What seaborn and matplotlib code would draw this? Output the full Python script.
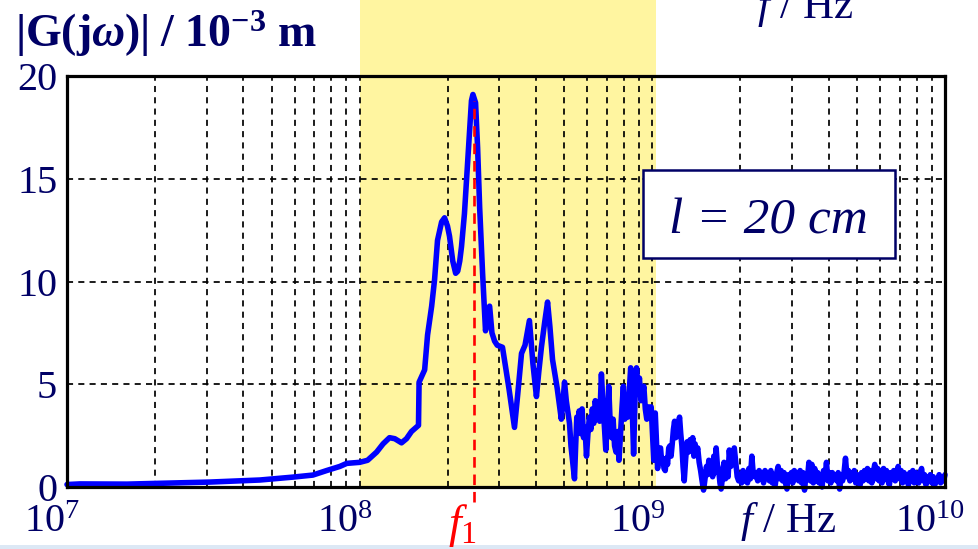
import matplotlib
matplotlib.use("Agg")
import matplotlib.pyplot as plt
import matplotlib.transforms as mtransforms
from matplotlib.patches import Rectangle
from matplotlib.ticker import FixedLocator, LogLocator, NullFormatter, LogFormatterMathtext
import numpy as np
import pandas as pd
import seaborn as sns

# ---------------- data ----------------
# log10 of frequency in Hz, and |G(jw)| in 1e-3 m
log_freq_low = [
    7.000, 7.044, 7.205, 7.488, 7.659, 7.771, 7.840, 7.887, 7.932, 7.956,
    8.000, 8.027, 8.058, 8.080, 8.102, 8.120, 8.143, 8.160, 8.177, 8.201,
    8.203, 8.222, 8.232, 8.246, 8.256, 8.266, 8.280, 8.290, 8.300, 8.307,
    8.318, 8.328, 8.335, 8.342, 8.348, 8.358, 8.369, 8.382, 8.387, 8.396,
    8.403, 8.410, 8.420, 8.430, 8.437, 8.444, 8.452, 8.461, 8.470, 8.488,
    8.510, 8.529, 8.540, 8.553, 8.565, 8.580, 8.592, 8.604, 8.612, 8.621,
    8.632, 8.642, 8.650, 8.659, 8.675, 8.689, 8.695,
]
mag_low = [
    0.12, 0.15, 0.14, 0.24, 0.34, 0.48, 0.58, 0.80, 1.00, 1.15,
    1.20, 1.30, 1.70, 2.10, 2.40, 2.35, 2.15, 2.35, 2.70, 3.00,
    5.10, 5.70, 7.40, 8.80, 10.10, 12.00, 12.90, 13.10, 12.70, 12.20,
    11.00, 10.40, 10.50, 11.00, 11.70, 13.30, 15.80, 18.80, 19.10, 18.70,
    16.50, 13.60, 10.40, 7.60, 8.20, 8.80, 7.50, 7.10, 6.90, 6.80,
    4.80, 2.90, 4.50, 6.50, 6.90, 8.10, 6.00, 4.40, 5.60, 6.80,
    8.00, 9.00, 7.80, 6.20, 4.80, 3.30, 4.20,
]
log_freq_mid = [
    8.700, 8.706, 8.712, 8.717, 8.722, 8.728, 8.734, 8.738, 8.742, 8.746,
    8.750, 8.755, 8.760, 8.765, 8.770, 8.775, 8.780, 8.785, 8.790, 8.795,
    8.800, 8.805, 8.810, 8.815, 8.820, 8.826, 8.831, 8.836, 8.841, 8.846,
    8.851, 8.856, 8.861, 8.866, 8.871, 8.876, 8.881, 8.886, 8.891, 8.896,
    8.901, 8.906, 8.911, 8.916, 8.921, 8.926, 8.931, 8.936, 8.941, 8.946,
    8.951, 8.956, 8.961, 8.966, 8.971, 8.976, 8.981, 8.986, 8.991, 8.996,
    9.001, 9.005, 9.010, 9.014, 9.018, 9.023, 9.028, 9.032, 9.036, 9.040,
    9.044, 9.048, 9.052, 9.056, 9.060, 9.064, 9.068, 9.072, 9.076, 9.080,
    9.085, 9.089, 9.093, 9.097, 9.101, 9.105, 9.109, 9.114, 9.119, 9.124,
    9.129, 9.133, 9.138, 9.142, 9.146, 9.150, 9.155, 9.160, 9.165, 9.170,
    9.175, 9.180, 9.185, 9.189, 9.193, 9.197, 9.201, 9.206, 9.210, 9.214,
    9.218, 9.222, 9.227, 9.231, 9.235, 9.240, 9.245, 9.250, 9.255, 9.259,
    9.263, 9.268, 9.272, 9.276, 9.280, 9.285, 9.290, 9.295, 9.300, 9.305,
    9.310, 9.315, 9.320, 9.325, 9.330, 9.335, 9.340, 9.345, 9.350, 9.355,
]
mag_mid = [
    5.1, 4.2, 3.6, 3.1, 2.0, 1.2, 0.4, 2.0, 3.4, 3.0,
    3.7, 2.6, 3.8, 2.4, 2.9, 1.5, 2.6, 3.4, 2.8, 3.8,
    3.1, 4.2, 3.6, 4.0, 3.2, 5.5, 4.1, 3.0, 1.8, 3.2,
    4.9, 3.1, 2.4, 3.3, 2.0, 1.7, 2.7, 1.3, 2.5, 3.8,
    4.9, 3.3, 4.1, 3.4, 4.6, 5.8, 4.0, 1.6, 4.4, 5.8,
    4.8, 5.3, 4.2, 4.5, 4.9, 3.8, 3.3, 3.9, 3.5, 3.9,
    2.4, 1.3, 3.6, 2.2, 0.9, 1.8, 1.9, 1.2, 1.4, 0.9,
    0.8, 1.4, 1.1, 1.9, 2.0, 1.5, 2.1, 2.8, 3.2, 2.4,
    2.6, 3.1, 3.4, 2.6, 2.0, 1.0, 0.3, 1.4, 2.2, 1.7,
    2.3, 1.8, 2.4, 1.5, 2.1, 1.6, 1.9, 1.2, 0.8, 0.3,
    -0.15, 0.4, 1.0, 0.6, 1.3, 0.8, 1.2, 0.5, 1.5, 0.7,
    1.9, 1.1, 0.8, 0.2, -0.1, 0.5, 1.2, 0.4, 0.9, 0.5,
    1.8, 1.0, 1.6, 1.1, 1.9, 1.2, 0.5, 0.3, 0.6, 0.2,
    0.8, 0.3, 0.7, 0.2, 0.9, 0.4, 1.5, 0.6, 0.5, 0.7,
]
log_freq_high = [
    9.360, 9.365, 9.370, 9.375, 9.380, 9.385, 9.390, 9.395, 9.400, 9.405,
    9.410, 9.415, 9.420, 9.425, 9.430, 9.435, 9.440, 9.445, 9.450, 9.455,
    9.460, 9.465, 9.470, 9.475, 9.480, 9.485, 9.490, 9.495, 9.500, 9.505,
    9.510, 9.515, 9.520, 9.525, 9.530, 9.535, 9.540, 9.545, 9.550, 9.555,
    9.560, 9.565, 9.570, 9.575, 9.580, 9.585, 9.590, 9.595, 9.600, 9.605,
    9.610, 9.615, 9.620, 9.625, 9.630, 9.635, 9.640, 9.645, 9.650, 9.655,
    9.660, 9.665, 9.670, 9.675, 9.680, 9.685, 9.690, 9.695, 9.700, 9.705,
    9.710, 9.715, 9.720, 9.725, 9.730, 9.735, 9.740, 9.745, 9.750, 9.755,
    9.760, 9.765, 9.770, 9.775, 9.780, 9.785, 9.790, 9.795, 9.800, 9.805,
    9.810, 9.815, 9.820, 9.825, 9.830, 9.835, 9.840, 9.845, 9.850, 9.855,
    9.860, 9.865, 9.870, 9.875, 9.880, 9.885, 9.890, 9.895, 9.900, 9.905,
    9.910, 9.915, 9.920, 9.925, 9.930, 9.935, 9.940, 9.945, 9.950, 9.955,
    9.960, 9.965, 9.970, 9.975, 9.980, 9.985, 9.990, 9.995, 10.000,
]
mag_high = [
    0.3, 0.8, 0.4, 0.7, 0.2, 0.8, 0.5, 0.7, 0.3, 0.8,
    0.2, 0.6, 0.1, 0.7, 1.0, 0.4, 0.8, 0.3, 0.7, 0.2,
    -0.1, 0.6, 0.3, 0.7, 0.2, 0.8, 0.4, 0.7, 0.3, 0.8,
    0.2, 0.7, -0.15, 0.6, 0.4, 1.2, 0.3, 1.1, 0.2, 0.9,
    0.3, 0.7, 0.2, 0.6, 0.0, 0.8, 0.4, 1.2, 0.3, 0.7,
    0.2, 0.7, 0.4, 0.6, 0.3, 0.7, -0.1, 0.6, 0.3, 0.7,
    1.4, 0.5, 0.8, 0.3, 0.7, 0.4, 0.8, 0.2, 0.6, 0.3,
    0.1, 0.7, 0.3, 0.8, 0.4, 0.9, 0.3, 0.8, 0.2, 0.7,
    1.1, 0.4, 0.9, 0.3, 0.8, 0.2, 0.9, 0.4, 0.8, 0.3,
    0.1, 0.7, 0.4, 0.8, 0.3, 0.7, 1.0, 0.4, 0.8, 0.2,
    0.7, 0.3, 0.6, 0.1, 0.7, 0.3, 0.8, 0.2, 0.7, 0.3,
    0.2, 0.7, 0.9, 0.3, 0.6, 0.1, 0.5, 0.3, 0.6, 0.2,
    0.5, 0.1, 0.4, 0.3, 0.6, 0.2, 0.5, 0.3, 0.6,
]
f1_hz = 2.45e8
f1_peak = 18.8
band_hz = [1.0e8, 1.03e9]
x_ticks = [1e7, 1e8, 1e9, 1e10]
y_ticks = [0, 5, 10, 15, 20]
y_grid = [5, 10, 15]
box_label = "l = 20 cm"

# ---------------- style ----------------
sns.set_theme(style="white")
plt.rcParams["font.family"] = ["Liberation Serif", "DejaVu Serif"]
plt.rcParams["mathtext.fontset"] = "custom"
plt.rcParams["mathtext.rm"] = "Liberation Serif"
plt.rcParams["mathtext.it"] = "Liberation Serif:italic"
plt.rcParams["mathtext.bf"] = "Liberation Serif:bold"
try:
    plt.rcParams["mathtext.bfit"] = "Liberation Serif:bold:italic"
    bfit_ok = True
except Exception:
    bfit_ok = False

NAVY = "#000066"
YELLOW = "#FFF5A0"

W, H = 979, 549
fig = plt.figure(figsize=(W / 100, H / 100), dpi=100)
fig.patch.set_facecolor("white")

def px(x, y):
    return x / W, 1 - y / H

L, R, T, B = 67, 945, 76, 487
ax = fig.add_axes([L / W, 1 - B / H, (R - L) / W, (B - T) / H])
ax.set_facecolor("white")

log_freq = log_freq_low + log_freq_mid + log_freq_high
magnitude = mag_low + mag_mid + mag_high
df = pd.DataFrame({"freq": np.power(10.0, log_freq), "mag": magnitude})

ax.set_xscale("log")
ax.set_xlim(x_ticks[0], x_ticks[-1])
ax.set_ylim(y_ticks[0], y_ticks[-1])

# yellow band (extends above the axes to the top of the figure)
trans = mtransforms.blended_transform_factory(ax.transData, ax.transAxes)
ax.add_patch(Rectangle((band_hz[0], 0), band_hz[1] - band_hz[0], 1.2,
                       transform=trans, facecolor=YELLOW, edgecolor="none",
                       clip_on=False, zorder=0))

sns.lineplot(data=df, x="freq", y="mag", ax=ax, estimator=None, sort=False,
             color="#0000FF", linewidth=4.0, zorder=3)
ax.lines[-1].set_clip_on(False)
ax.lines[-1].set_solid_joinstyle("round")
ax.lines[-1].set_solid_capstyle("round")

# red dashed marker line at f1
ax.plot([f1_hz, f1_hz], [-0.75, f1_peak], color="red", linewidth=1.9,
        linestyle=(0, (4, 2.6)), clip_on=False, zorder=4)

# grid
ax.xaxis.set_major_locator(FixedLocator(x_ticks))
ax.xaxis.set_minor_locator(LogLocator(base=10, subs=np.arange(2, 10)))
ax.xaxis.set_minor_formatter(NullFormatter())
ax.xaxis.set_major_formatter(LogFormatterMathtext())
ax.yaxis.set_major_locator(FixedLocator(y_ticks))
ax.grid(False)
for gx in list(ax.xaxis.get_minorticklocs()) + x_ticks[1:-1]:
    ax.axvline(gx, color="black", linewidth=1.25, linestyle=(0, (3.5, 3)), zorder=1.5)
for gy in y_grid:
    ax.axhline(gy, color="black", linewidth=1.25, linestyle=(0, (3.5, 3)), zorder=1.5)

ax.tick_params(axis="both", which="both", length=0, labelcolor=NAVY, labelsize=29)
ax.tick_params(axis="x", pad=12)
ax.tick_params(axis="y", pad=7)
shift = mtransforms.ScaledTranslation(-15 / 100, 0, fig.dpi_scale_trans)
for lbl in ax.get_xticklabels():
    lbl.set_transform(lbl.get_transform() + shift)
for s in ax.spines.values():
    s.set_color("black")
    s.set_linewidth(2.3)
    s.set_zorder(5)
ax.set_xlabel("")
ax.set_ylabel("")

# box with l = 20 cm
ax.add_patch(Rectangle(((643 - L) / (R - L), (B - 258) / (B - T)),
                       (895 - 643) / (R - L), (258 - 170) / (B - T),
                       transform=ax.transAxes, facecolor="white",
                       edgecolor=NAVY, linewidth=1.8, zorder=6))
ax.text((768 - L) / (R - L), (B - 233) / (B - T), box_label, transform=ax.transAxes,
        ha="center", va="baseline", fontsize=37, fontstyle="italic",
        color=NAVY, zorder=7)

# title (y label)
if bfit_ok:
    title = r"$\mathbf{|G(j}\mathbfit{\omega}\mathbf{)|\ /\ 10^{-3}\ m}$"
else:
    title = r"$\mathbf{|G(j\omega)|\ /\ 10^{-3}\ m}$"
fig.text(*px(15, 47), title, ha="left", va="baseline", fontsize=33, color=NAVY)

# axis unit labels
fig.text(*px(740, 532), r"$\mathit{f}$ / Hz", ha="left", va="baseline",
         fontsize=31, color=NAVY)
fig.text(*px(757, 18), r"$\mathit{f}$ / Hz", ha="left", va="baseline",
         fontsize=31, color=NAVY)

# f1 label
fig.text(*px(448, 537), r"$\mathit{f}_{\mathrm{1}}$", ha="left", va="baseline",
         fontsize=33, color="red")

# faint strip at the very bottom
fig.patches.append(Rectangle((0, 0), 1, 4 / H, transform=fig.transFigure,
                             facecolor="#DCE8F5", edgecolor="none", zorder=0))

fig.savefig("out.png", dpi=100)
